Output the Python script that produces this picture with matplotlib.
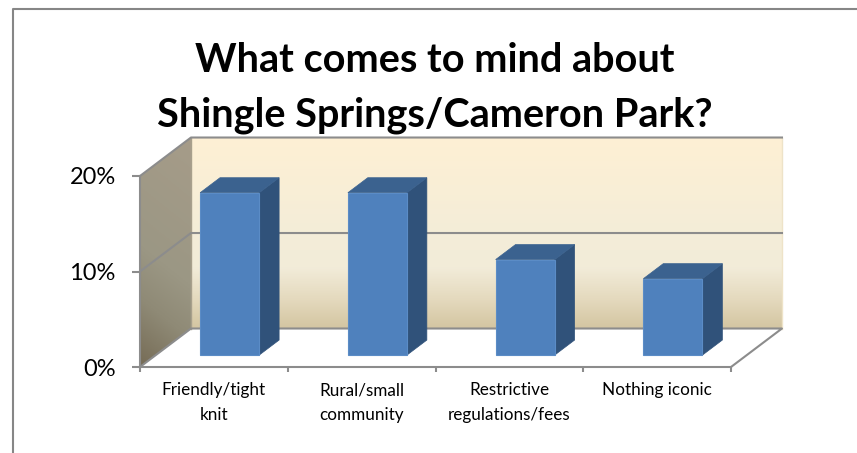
import matplotlib
matplotlib.use('Agg')
import matplotlib.pyplot as plt
import numpy as np
from matplotlib.colors import LinearSegmentedColormap
from matplotlib.lines import Line2D
from matplotlib.patches import Polygon

plt.rcParams['font.family'] = ['Lato', 'DejaVu Sans']

title = 'What comes to mind about\nShingle Springs/Cameron Park?'
categories = ['Friendly/tight\nknit', 'Rural/small\ncommunity',
              'Restrictive\nregulations/fees', 'Nothing iconic']
values = [17, 17, 10, 8]
y_ticks = [0, 10, 20]

# oblique offset of the back wall, in data units
DX = 0.345
DY = 4.03
BAR_WIDTH = 0.4
BAR_D0 = 0.31
BAR_D1 = 0.70

LINE = '#8c8c8c'
W, H = 857, 453


def shift(x, y, depth):
    return (x + DX * depth, y + DY * depth)


def draw_bar(ax, center, value):
    x0 = center - BAR_WIDTH / 2
    x1 = center + BAR_WIDTH / 2
    front = [shift(x0, 0, BAR_D0), shift(x1, 0, BAR_D0),
             shift(x1, value, BAR_D0), shift(x0, value, BAR_D0)]
    side = [shift(x1, 0, BAR_D0), shift(x1, 0, BAR_D1),
            shift(x1, value, BAR_D1), shift(x1, value, BAR_D0)]
    top = [shift(x0, value, BAR_D0), shift(x1, value, BAR_D0),
           shift(x1, value, BAR_D1), shift(x0, value, BAR_D1)]
    ax.add_patch(Polygon(side, fc='#30527a', ec='#30527a', lw=0.5,
                         zorder=4, clip_on=False))
    ax.add_patch(Polygon(top, fc='#3b628f', ec='#3b628f', lw=0.5,
                         zorder=4, clip_on=False))
    ax.add_patch(Polygon(front, fc='#4f81bd', ec='#5b8cc6', lw=0.8,
                         zorder=5, clip_on=False))


def draw_walls(ax):
    back_cmap = LinearSegmentedColormap.from_list('back', [
        (0.0, '#fef0d4'), (0.5, '#f4edd8'), (0.68, '#f2ecd9'),
        (0.85, '#e4d9bd'), (1.0, '#d3c5a1')])
    back = ax.imshow(np.linspace(0, 1, 256)[:, None], cmap=back_cmap,
                     aspect='auto', origin='upper', zorder=1,
                     extent=(DX, 4 + DX, DY, 20 + DY))
    back.set_clip_on(False)

    # side wall shades towards its lower corner
    side_cmap = LinearSegmentedColormap.from_list('side', [
        (0.0, '#a69c89'), (0.55, '#9b9784'), (0.75, '#8f8a76'),
        (1.0, '#766c56')])
    yy, xx = np.mgrid[0:1:128j, 0:1:64j]
    shade = np.clip(0.85 * yy + 0.15 * (1 - xx), 0, 1)
    side = ax.imshow(shade, cmap=side_cmap, aspect='auto', origin='upper',
                     zorder=1, extent=(0, DX, 0, 20 + DY))
    outline = [(0, 0), (DX, DY), (DX, 20 + DY), (0, 20)]
    side.set_clip_path(Polygon(outline, transform=ax.transData))
    side.set_clip_box(fig.bbox)

    ax.plot([4 + DX, 4 + DX], [DY, 20 + DY], color='#eee3c8', lw=1,
            zorder=2, clip_on=False)
    ax.plot([DX, DX], [DY, 20 + DY], color='#a8a08c', lw=1,
            zorder=2, clip_on=False)

    for tick in y_ticks[1:]:
        ax.plot([0, DX, 4 + DX], [tick, tick + DY, tick + DY], color=LINE,
                lw=1.5, zorder=3, clip_on=False)
    # floor outline
    ax.plot([0, DX, 4 + DX, 4], [0, DY, DY, 0], color=LINE, lw=1.5,
            zorder=3, clip_on=False)


fig = plt.figure(figsize=(W / 100, H / 100), dpi=100)
ax = fig.add_axes([140 / W, 1 - 367 / H, 591 / W, 191 / H])
ax.patch.set_visible(False)

draw_walls(ax)
for i, value in enumerate(values):
    draw_bar(ax, i + 0.5, value)

ax.set_xlim(0, 4)
ax.set_ylim(0, 20)

ax.set_yticks(y_ticks)
ax.set_yticklabels([f'{t}%' for t in y_ticks], fontsize=17)
ax.set_xticks(range(5))
ax.set_xticklabels([])
ax.set_xticks(np.arange(len(categories)) + 0.5, minor=True)
ax.set_xticklabels(categories, minor=True, fontsize=12.3, linespacing=1.68)
ax.tick_params(axis='y', length=5.8, width=1.5, color=LINE, pad=11.6)
ax.tick_params(axis='x', which='major', length=3.6, width=1.5, color=LINE)
ax.tick_params(axis='x', which='minor', length=0, pad=11)

for name in ['top', 'right']:
    ax.spines[name].set_visible(False)
for name in ['left', 'bottom']:
    ax.spines[name].set_color(LINE)
    ax.spines[name].set_linewidth(1.5)
    ax.spines[name].set_zorder(3)

fig.text(435 / W, 1 - 88 / H, title, ha='center', va='center',
         fontsize=28.5, fontweight='bold', linespacing=1.6)

# chart area border, cut off on the right and at the bottom
fig.add_artist(Line2D([12.5 / W, 12.5 / W, 856 / W],
                      [0, 1 - 9 / H, 1 - 9 / H], color='#868686', lw=1.5))

fig.savefig('out.png', dpi=100)
